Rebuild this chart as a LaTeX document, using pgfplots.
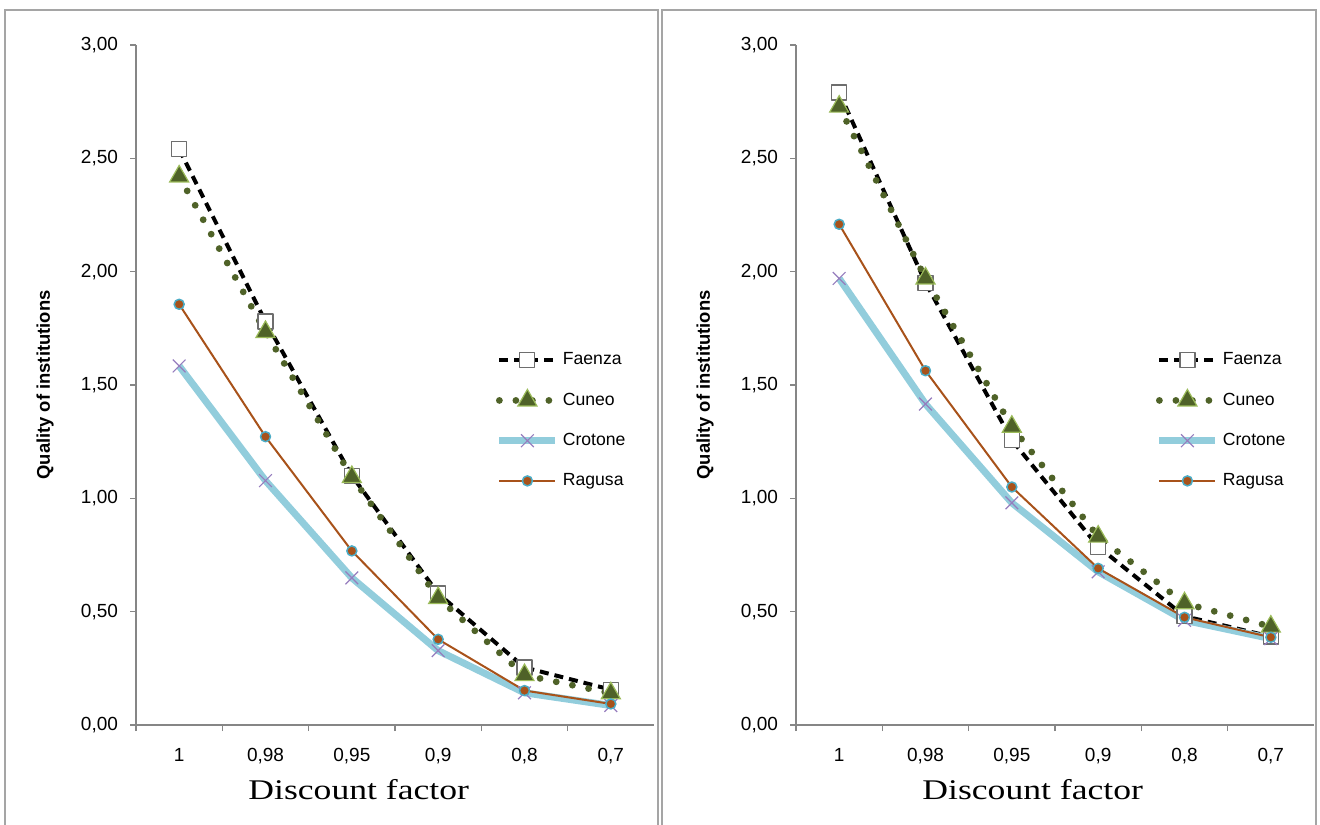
\documentclass[border=0pt]{standalone}
\usepackage{pgfplots}
\pgfplotsset{compat=1.18}
\usepackage{fontspec}
\setmainfont{Liberation Sans}
\newfontfamily\timesfont{Liberation Serif}

\definecolor{axisgray}{RGB}{134,134,134}
\definecolor{framegray}{RGB}{165,165,165}
\definecolor{faenzamark}{RGB}{110,110,110}
\definecolor{cuneocol}{RGB}{79,98,40}
\definecolor{cuneoedge}{RGB}{155,187,89}
\definecolor{crotonecol}{RGB}{146,205,220}
\definecolor{crotonemark}{RGB}{150,125,190}
\definecolor{ragusacol}{RGB}{168,82,26}
\definecolor{ragusaedge}{RGB}{75,172,198}

\pgfplotsset{
  panel/.style={
    scale only axis, width=259pt, height=340pt,
    anchor=south west,
    xmin=-0.5, xmax=5.5, ymin=0, ymax=3,
    axis x line*=bottom, axis y line*=left,
    axis line style={draw=axisgray, line width=0.6pt},
    tick align=outside,
    major tick length=3pt, minor tick length=3pt,
    tick style={draw=axisgray, line width=0.6pt},
    xtick={0,...,5},
    xticklabels={1,{0,98},{0,95},{0,9},{0,8},{0,7}},
    major x tick style={draw=none},
    minor xtick={-0.5,0.5,...,4.5},
    ytick={0,0.5,...,3},
    ticklabel style={font=\fontsize{9.5}{11}\selectfont, text=black},
    xticklabel style={yshift=-5pt},
    yticklabel style={xshift=-2.5pt, /pgf/number format/.cd, fixed, fixed zerofill, precision=2, use comma, assume math mode=true},
    xlabel={Discount factor},
    xlabel style={anchor=center, yshift=-32.5pt, font=\timesfont\fontsize{14.25}{16}\selectfont, xscale=1.25},
    ylabel={Quality of institutions},
    ylabel style={at={(rel axis cs:0,0.5)}, anchor=center, yshift=45.5pt, font=\bfseries\fontsize{9.2}{11}\selectfont},
    legend style={at={(rel axis cs:0.694,0.554)}, anchor=north west, draw=none, fill=none,
      font=\fontsize{8.8}{10}\selectfont, row sep=8.5pt, inner sep=0pt,
      /tikz/every even column/.append style={column sep=1.5pt}},
    legend cell align=left,
    legend image code/.code={\draw[mark repeat=2,mark phase=2] plot coordinates {(0pt,0pt) (14pt,0pt) (28pt,0pt)};},
    clip=false,
  },
  sFaenza/.style={black, line width=2pt, dash pattern=on 4.5pt off 3pt, line join=round,
    mark=square*, mark options={solid, fill=white, draw=faenzamark, line width=0.6pt, mark size=3.75pt}},
  sCuneo/.style={cuneocol, line width=3.4pt, line cap=round, dash pattern=on 0pt off 8.25pt,
    mark=triangle*, mark options={solid, fill=cuneocol, draw=cuneoedge, line width=0.6pt, mark size=5.5pt}},
  sCrotone/.style={crotonecol, line width=3.5pt, line join=round,
    mark=x, mark options={draw=crotonemark, line width=0.6pt, mark size=4.5pt}},
  sRagusa/.style={ragusacol, line width=1pt, line join=round,
    mark=*, mark options={fill=ragusacol, draw=ragusaedge, line width=0.75pt, mark size=2.5pt}},
}

\begin{document}
\begin{tikzpicture}
\useasboundingbox (0,0) rectangle (660pt,412pt);
\clip (0,0) rectangle (660pt,412pt);
\draw[framegray, line width=0.75pt] (2.5pt,407pt) rectangle (329pt,-5pt);
\draw[framegray, line width=0.75pt] (331pt,407pt) rectangle (658pt,-5pt);

% left panel
\begin{axis}[panel, at={(68pt,49.5pt)}, xlabel style={at={(rel axis cs:0.43,0)}}]
\addplot[sFaenza] coordinates {(0,2.54) (1,1.78) (2,1.10) (3,0.58) (4,0.254) (5,0.156)};
\addlegendentry{Faenza}
\addplot[sCuneo] coordinates {(0,2.42) (1,1.734) (2,1.094) (3,0.56) (4,0.22) (5,0.14)};
\addlegendentry{Cuneo}
\addplot[sCrotone] coordinates {(0,1.584) (1,1.078) (2,0.649) (3,0.328) (4,0.142) (5,0.086)};
\addlegendentry{Crotone}
\addplot[sRagusa] coordinates {(0,1.856) (1,1.272) (2,0.768) (3,0.378) (4,0.152) (5,0.093)};
\addlegendentry{Ragusa}
\end{axis}

% right panel
\begin{axis}[panel, at={(398pt,49.5pt)}, xlabel style={at={(rel axis cs:0.457,0)}}]
\addplot[sFaenza] coordinates {(0,2.79) (1,1.951) (2,1.257) (3,0.787) (4,0.48) (5,0.39)};
\addlegendentry{Faenza}
\addplot[sCuneo] coordinates {(0,2.728) (1,1.97) (2,1.316) (3,0.831) (4,0.537) (5,0.434)};
\addlegendentry{Cuneo}
\addplot[sCrotone] coordinates {(0,1.97) (1,1.416) (2,0.98) (3,0.676) (4,0.462) (5,0.381)};
\addlegendentry{Crotone}
\addplot[sRagusa] coordinates {(0,2.209) (1,1.563) (2,1.05) (3,0.691) (4,0.475) (5,0.387)};
\addlegendentry{Ragusa}
\end{axis}
\end{tikzpicture}
\end{document}
